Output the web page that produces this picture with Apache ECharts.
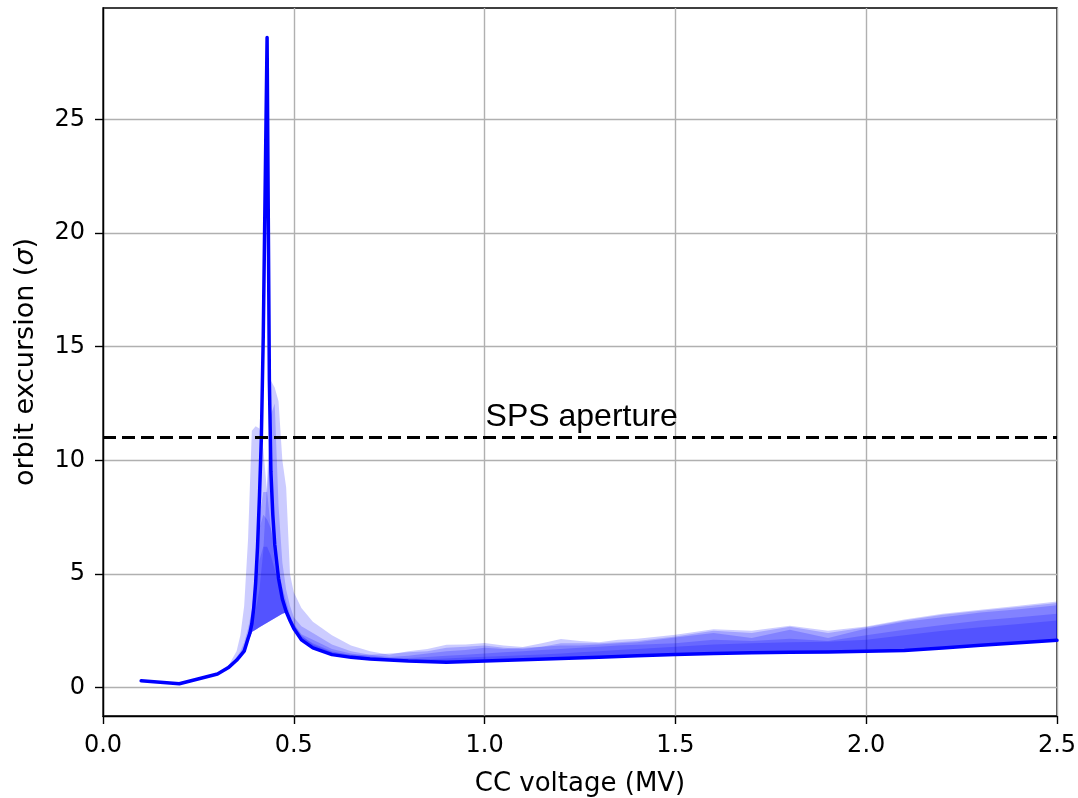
<!DOCTYPE html>
<html>
<head>
<meta charset="utf-8">
<script src="https://cdn.jsdelivr.net/npm/echarts@6/dist/echarts.min.js"></script>
<style>
html,body{margin:0;padding:0;background:#fff;}
#chart{width:1078px;height:798px;}
</style>
</head>
<body>
<div id="chart"></div>
<script>
// ---- data ----
var xTicks = [0, 0.5, 1.0, 1.5, 2.0, 2.5];
var yTicks = [0, 5, 10, 15, 20, 25];
var aperture = 11;
var apertureLabel = 'SPS aperture';
var apertureLabelPos = [1.0, 11.0];

var mainX = [0.10, 0.20, 0.30, 0.33, 0.35, 0.37, 0.38, 0.385, 0.39, 0.395, 0.40, 0.405, 0.41, 0.415, 0.42, 0.43, 0.436, 0.44, 0.445, 0.45, 0.46, 0.47, 0.48, 0.49, 0.50, 0.52, 0.55, 0.60, 0.65, 0.70, 0.80, 0.90, 1.00, 1.10, 1.20, 1.30, 1.40, 1.50, 1.60, 1.70, 1.80, 1.90, 2.00, 2.10, 2.20, 2.30, 2.40, 2.50];
var mainY = [0.30, 0.17, 0.60, 0.90, 1.20, 1.60, 2.15, 2.40, 2.80, 3.50, 4.60, 6.20, 8.40, 11.0, 15.5, 28.6, 13.5, 9.5, 7.6, 6.3, 4.8, 3.9, 3.35, 2.95, 2.60, 2.10, 1.75, 1.45, 1.33, 1.26, 1.17, 1.12, 1.17, 1.22, 1.28, 1.34, 1.40, 1.46, 1.50, 1.53, 1.55, 1.57, 1.60, 1.63, 1.74, 1.86, 1.97, 2.08];

var bandX   = [0.10, 0.20, 0.30, 0.33, 0.35, 0.36, 0.37, 0.38, 0.39, 0.40, 0.41, 0.42, 0.43, 0.44, 0.45, 0.46, 0.47, 0.48, 0.49, 0.50, 0.52, 0.55, 0.60, 0.65, 0.70, 0.75, 0.80, 0.85, 0.90, 0.95, 1.00, 1.05, 1.10, 1.15, 1.20, 1.25, 1.30, 1.35, 1.40, 1.50, 1.60, 1.70, 1.80, 1.90, 2.00, 2.10, 2.20, 2.30, 2.40, 2.50];
var bandLow = [0.30, 0.17, 0.60, 0.90, 1.20, 1.40, 1.60, 2.00, 2.45, 2.55, 2.65, 2.75, 2.85, 2.95, 3.05, 3.15, 3.25, 3.30, 2.95, 2.60, 2.10, 1.75, 1.45, 1.33, 1.26, 1.21, 1.17, 1.14, 1.12, 1.14, 1.17, 1.19, 1.22, 1.25, 1.28, 1.31, 1.34, 1.37, 1.40, 1.46, 1.50, 1.53, 1.55, 1.57, 1.60, 1.63, 1.74, 1.86, 1.97, 2.08];
var band1Hi = [0.32, 0.20, 0.65, 1.00, 1.60, 2.30, 3.60, 6.50, 11.3, 11.5, 11.4, 10.5, 8.60, 7.00, 5.50, 4.60, 4.00, 3.50, 3.10, 2.80, 2.30, 1.90, 1.55, 1.45, 1.45, 1.50, 1.55, 1.60, 1.75, 1.80, 1.85, 1.75, 1.70, 1.80, 1.95, 1.95, 1.95, 2.00, 2.05, 2.25, 2.50, 2.40, 2.68, 2.40, 2.66, 2.95, 3.20, 3.38, 3.55, 3.72];
var band2Hi = [0.30, 0.17, 0.60, 0.90, 1.25, 1.45, 1.70, 2.10, 2.70, 3.40, 4.30, 6.00, 9.00, 13.5, 13.2, 12.6, 10.0, 8.80, 5.00, 4.20, 3.50, 2.90, 2.30, 1.85, 1.60, 1.45, 1.60, 1.70, 1.89, 1.90, 1.96, 1.85, 1.79, 1.95, 2.14, 2.05, 1.99, 2.10, 2.15, 2.33, 2.57, 2.50, 2.72, 2.50, 2.69, 3.00, 3.25, 3.43, 3.60, 3.79];
var band3Hi = [0.30, 0.17, 0.62, 0.95, 1.35, 1.60, 2.00, 2.60, 3.40, 5.00, 7.50, 8.60, 8.60, 12.0, 12.5, 8.00, 5.50, 4.30, 3.60, 3.10, 2.70, 2.40, 1.90, 1.60, 1.45, 1.35, 1.40, 1.50, 1.60, 1.65, 1.75, 1.70, 1.75, 1.80, 1.85, 1.85, 1.90, 1.95, 2.00, 2.20, 2.40, 2.18, 2.55, 2.18, 2.60, 2.90, 3.10, 3.30, 3.45, 3.62];
var band4Hi = [0.30, 0.17, 0.60, 0.92, 1.30, 1.50, 1.85, 2.40, 3.20, 4.80, 7.00, 7.60, 7.40, 7.00, 6.20, 5.20, 4.40, 3.80, 3.20, 2.80, 2.35, 2.10, 1.70, 1.50, 1.38, 1.30, 1.30, 1.35, 1.40, 1.45, 1.50, 1.55, 1.60, 1.65, 1.70, 1.75, 1.80, 1.85, 1.88, 1.95, 2.10, 2.05, 2.15, 2.05, 2.30, 2.55, 2.75, 2.95, 3.10, 3.25];
var band5Hi = [0.30, 0.17, 0.60, 0.90, 1.25, 1.45, 1.75, 2.25, 3.00, 4.20, 5.60, 6.20, 6.20, 5.80, 5.20, 4.60, 4.00, 3.50, 3.00, 2.70, 2.25, 1.95, 1.60, 1.42, 1.32, 1.26, 1.24, 1.25, 1.28, 1.32, 1.36, 1.39, 1.42, 1.46, 1.50, 1.55, 1.60, 1.65, 1.70, 1.80, 1.90, 1.95, 2.00, 2.02, 2.10, 2.30, 2.50, 2.65, 2.80, 2.95];

// ---- chart ----
var chart = echarts.init(document.getElementById('chart'), null, {renderer: 'canvas'});

function pairs(xs, ys) { var out = []; for (var i = 0; i < xs.length; i++) out.push([xs[i], ys[i]]); return out; }

function bandSeries(hi) {
  return {
    type: 'custom',
    silent: true,
    z: 1,
    clip: true,
    coordinateSystem: 'cartesian2d',
    data: [[bandX[0], bandLow[0]]],
    encode: {x: 0, y: 1},
    renderItem: function (params, api) {
      var pts = [];
      for (var i = 0; i < bandX.length; i++) pts.push(api.coord([bandX[i], hi[i]]));
      for (var j = bandX.length - 1; j >= 0; j--) pts.push(api.coord([bandX[j], bandLow[j]]));
      return {type: 'polygon', shape: {points: pts}, style: {fill: 'rgba(0,0,255,0.2)', stroke: null}};
    }
  };
}

var tickFont = 'DejaVu Sans';
var option = {
  animation: false,
  backgroundColor: '#ffffff',
  grid: {left: 103, right: 21, top: 8, bottom: 82, show: true, borderColor: '#000', borderWidth: 1.4,
    backgroundColor: 'transparent', containLabel: false, outerBoundsMode: 'none'},
  xAxis: {
    type: 'value', min: 0, max: 2.5, interval: 0.5,
    name: 'CC voltage (MV)', nameLocation: 'middle', nameGap: 55,
    nameTextStyle: {fontFamily: tickFont, fontSize: 26, color: '#000'},
    axisLine: {show: true, onZero: false, lineStyle: {color: '#000', width: 1.4}},
    axisTick: {show: true, inside: false, length: 8, lineStyle: {color: '#000', width: 1.4}},
    axisLabel: {fontFamily: tickFont, fontSize: 24, color: '#000', margin: 18,
      formatter: function (v) { return v.toFixed(1); }},
    splitLine: {show: true, lineStyle: {color: '#b0b0b0', width: 1.4}}
  },
  yAxis: {
    type: 'value', min: -1.25, max: 29.9, splitNumber: 6,
    name: 'orbit excursion ({s|σ})', nameLocation: 'middle', nameGap: 64,
    nameTextStyle: {fontFamily: tickFont, fontSize: 27, color: '#000',
      rich: {s: {fontFamily: tickFont, fontSize: 27, fontStyle: 'italic', color: '#000'}}},
    axisLine: {show: true, onZero: false, lineStyle: {color: '#000', width: 1.4}},
    axisTick: {show: true, inside: false, length: 8, lineStyle: {color: '#000', width: 1.4}, customValues: yTicks},
    axisLabel: {fontFamily: tickFont, fontSize: 24, color: '#000', margin: 18, customValues: yTicks},
    splitLine: {show: true, lineStyle: {color: '#b0b0b0', width: 1.4}}
  },
  series: [
    bandSeries(band1Hi),
    bandSeries(band2Hi),
    bandSeries(band3Hi),
    bandSeries(band4Hi),
    bandSeries(band5Hi),
    {
      type: 'line', data: pairs(mainX, mainY), showSymbol: false, symbol: 'none', z: 5,
      lineStyle: {color: '#0000ff', width: 3.5, cap: 'round', join: 'round'}, silent: true
    },
    {
      type: 'line', data: [[0, aperture], [2.5, aperture]], showSymbol: false, symbol: 'none', z: 6,
      lineStyle: {color: '#000', width: 3, type: [13, 6]}, silent: true
    }
  ]
};
chart.setOption(option);

var p = chart.convertToPixel({gridIndex: 0}, apertureLabelPos);
chart.setOption({
  graphic: [{
    type: 'text', z: 100, silent: true,
    x: p[0] + 1, y: p[1] - 4,
    style: {text: apertureLabel, fill: '#000000', font: '32px "Liberation Sans"', textAlign: 'left', textVerticalAlign: 'bottom'}
  }]
});
</script>
</body>
</html>
